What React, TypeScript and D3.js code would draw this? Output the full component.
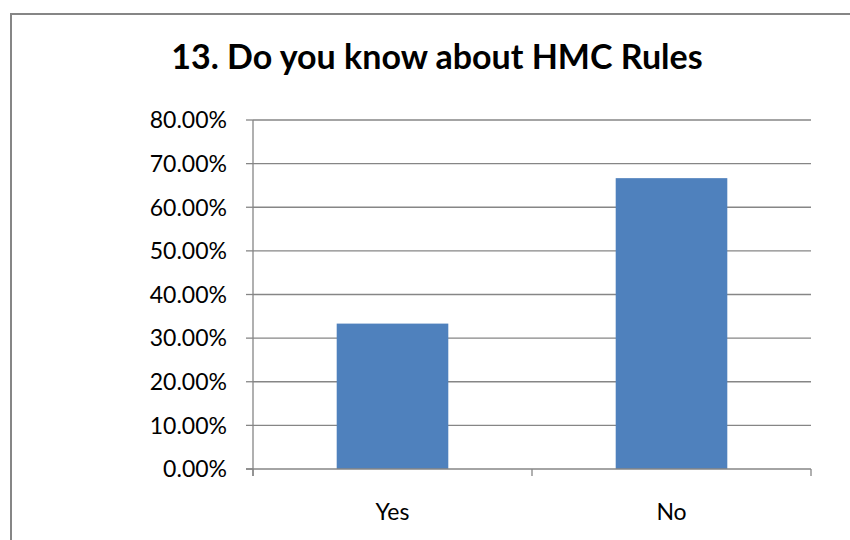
import React from 'react';
import * as d3 from 'd3';

const categories = ['Yes', 'No'];
const values = [0.3333, 0.6667];
const yTicks = [0, 0.1, 0.2, 0.3, 0.4, 0.5, 0.6, 0.7, 0.8];
const title = '13. Do you know about HMC Rules';

const W = 850;
const H = 540;
const plot = {left: 253, right: 811, top: 120, bottom: 469};
const font = 'Lato, "Open Sans", sans-serif';
const gray = '#868686';

export default function App() {
  const x = d3
    .scaleBand<string>()
    .domain(categories)
    .range([plot.left, plot.right])
    .paddingInner(0.6)
    .paddingOuter(0.3);
  const xOuter = d3.scaleBand<string>().domain(categories).range([plot.left, plot.right]);
  const y = d3.scaleLinear().domain([0, 0.8]).range([plot.bottom, plot.top]);
  const fmt = (v: number) => (v * 100).toFixed(2) + '%';

  // category boundaries for the bottom tick marks
  const bounds = [...categories.map((c) => xOuter(c)!), plot.right];

  return (
    <svg
      width={W}
      height={H}
      style={{position: 'absolute', left: 0, top: 0, background: 'white'}}
    >
      {/* chart frame, runs off the right and bottom */}
      <rect x={11} y={14} width={W + 20} height={H + 20} fill="white" stroke={gray} strokeWidth={2} />

      <text
        x={437}
        y={69}
        textAnchor="middle"
        fontFamily={font}
        fontWeight="bold"
        fontSize={34}
        fill="#000"
      >
        {title}
      </text>

      {/* gridlines */}
      {yTicks.slice(1).map((t) => (
        <line key={t} x1={plot.left} x2={plot.right} y1={y(t)} y2={y(t)} stroke={gray} strokeWidth={1.3} />
      ))}

      {/* bars */}
      {categories.map((c, i) => (
        <rect
          key={c}
          x={x(c)}
          y={y(values[i])}
          width={x.bandwidth()}
          height={plot.bottom - y(values[i])}
          fill="#4F81BD"
        />
      ))}

      {/* y axis */}
      <line x1={plot.left} x2={plot.left} y1={plot.top} y2={plot.bottom + 7} stroke={gray} strokeWidth={1.3} />
      {yTicks.map((t) => (
        <g key={t}>
          <line x1={plot.left - 7} x2={plot.left} y1={y(t)} y2={y(t)} stroke={gray} strokeWidth={1.3} />
          <text
            x={227}
            y={y(t)}
            dy="0.36em"
            textAnchor="end"
            fontFamily={font}
            fontSize={23}
            fill="#000"
          >
            {fmt(t)}
          </text>
        </g>
      ))}

      {/* x axis */}
      <line x1={plot.left - 7} x2={plot.right} y1={plot.bottom} y2={plot.bottom} stroke={gray} strokeWidth={1.3} />
      {bounds.map((b, i) => (
        <line key={i} x1={b} x2={b} y1={plot.bottom} y2={plot.bottom + 7} stroke={gray} strokeWidth={1.3} />
      ))}
      {categories.map((c) => (
        <text
          key={c}
          x={xOuter(c)! + xOuter.bandwidth() / 2}
          y={520}
          textAnchor="middle"
          fontFamily={font}
          fontSize={23}
          fill="#000"
        >
          {c}
        </text>
      ))}
    </svg>
  );
}
